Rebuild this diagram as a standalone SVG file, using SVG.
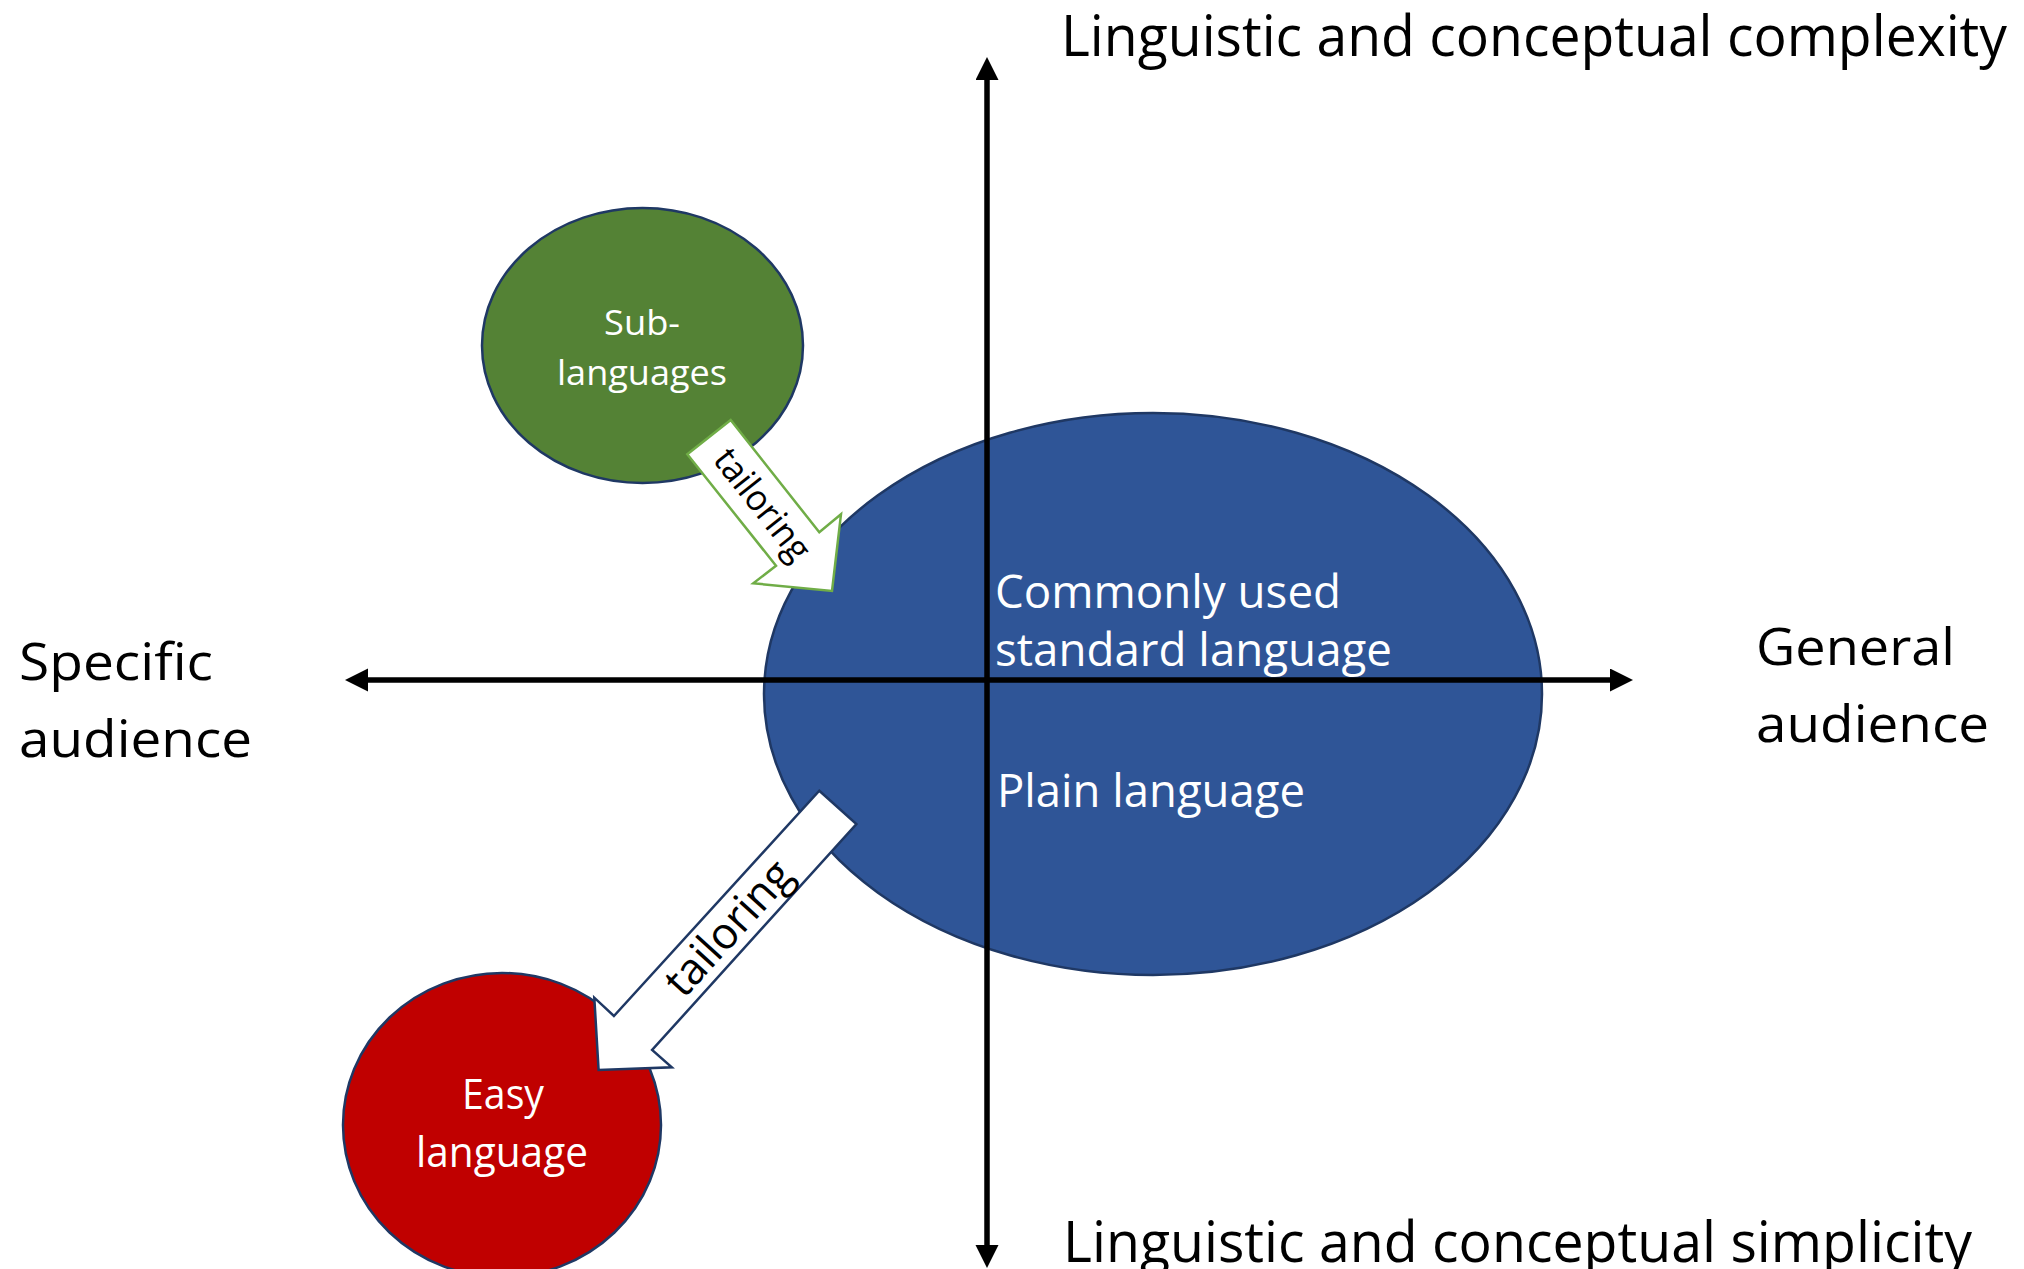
<svg xmlns="http://www.w3.org/2000/svg" width="2024" height="1269" viewBox="0 0 2024 1269">
<style>
text { font-family: "Open Sans", "Noto Sans", sans-serif; }
.axis { stroke: #000; stroke-width: 5.5; fill: none; }
.lbl { fill: #000; }
.wt { fill: #fff; }
.ell { stroke: #1F3864; stroke-width: 2.5; }
</style>
<defs>
<marker id="ah" markerUnits="userSpaceOnUse" markerWidth="24" markerHeight="24" refX="3" refY="11.5" orient="auto-start-reverse">
<path d="M0,0 L23,11.5 L0,23 z" fill="#000"/>
</marker>
</defs>
<rect width="2024" height="1269" fill="#fff"/>

<g id="standard-language">
<ellipse class="ell" cx="1153" cy="694" rx="389" ry="281" fill="#2F5597"/>
</g>
<g id="sub-languages">
<ellipse class="ell" cx="642.5" cy="345.5" rx="160.5" ry="137.5" fill="#548235"/>
<text class="wt" x="642" y="335" font-size="35" text-anchor="middle" textLength="76" lengthAdjust="spacingAndGlyphs">Sub-</text>
<text class="wt" x="642" y="385" font-size="35" text-anchor="middle" textLength="170" lengthAdjust="spacingAndGlyphs">languages</text>
</g>
<g id="easy-language">
<ellipse class="ell" cx="502" cy="1125" rx="159" ry="152" fill="#C00000"/>
<text class="wt" x="503" y="1109" font-size="42" text-anchor="middle" textLength="82" lengthAdjust="spacingAndGlyphs">Easy</text>
<text class="wt" x="502" y="1167" font-size="42" text-anchor="middle" textLength="172" lengthAdjust="spacingAndGlyphs">language</text>
</g>

<g id="connectors">
<g id="tailoring-sub">
<polygon points="730.7,420 819.3,532.3 841,514.3 832,591 753.3,583.3 776,565.7 687.3,454.3" fill="#fff" stroke="#70AD47" stroke-width="2.5" stroke-linejoin="miter"/>
<text class="lbl" transform="translate(762.3,504.7) rotate(51.7)" x="0" y="12" font-size="36" text-anchor="middle" textLength="132" lengthAdjust="spacingAndGlyphs">tailoring</text>
</g>
<g id="tailoring-easy">
<polygon points="819.3,790.7 856.4,824 652.1,1050 671.8,1067.3 598.6,1070 594.3,997.7 613.9,1016" fill="#fff" stroke="#1F3864" stroke-width="2.5" stroke-linejoin="miter"/>
<text class="lbl" transform="translate(728.4,928) rotate(-47.8)" x="0" y="15" font-size="44" text-anchor="middle" textLength="166" lengthAdjust="spacingAndGlyphs">tailoring</text>
</g>
<line class="axis" x1="987" y1="1248" x2="987" y2="77" marker-end="url(#ah)" marker-start="url(#ah)"/>
<line class="axis" x1="365" y1="680" x2="1613" y2="680" marker-end="url(#ah)" marker-start="url(#ah)"/>
</g>

<g id="standard-language-text">
<text class="wt" x="995" y="608" font-size="46" textLength="346" lengthAdjust="spacingAndGlyphs">Commonly used</text>
<text class="wt" x="995" y="666" font-size="46" textLength="397" lengthAdjust="spacingAndGlyphs">standard language</text>
<text class="wt" x="997" y="807" font-size="46" textLength="308" lengthAdjust="spacingAndGlyphs">Plain language</text>
</g>

<g id="axis-labels">
<text class="lbl" x="1061" y="56" font-size="57" textLength="946" lengthAdjust="spacingAndGlyphs">Linguistic and conceptual complexity</text>
<text class="lbl" x="1063" y="1262" font-size="57" textLength="909" lengthAdjust="spacingAndGlyphs">Linguistic and conceptual simplicity</text>
<text class="lbl" x="19" y="680" font-size="52" textLength="194" lengthAdjust="spacingAndGlyphs">Specific</text>
<text class="lbl" x="19" y="757" font-size="52" textLength="233" lengthAdjust="spacingAndGlyphs">audience</text>
<text class="lbl" x="1756" y="665" font-size="52" textLength="199" lengthAdjust="spacingAndGlyphs">General</text>
<text class="lbl" x="1756" y="742" font-size="52" textLength="233" lengthAdjust="spacingAndGlyphs">audience</text>
</g>
</svg>
